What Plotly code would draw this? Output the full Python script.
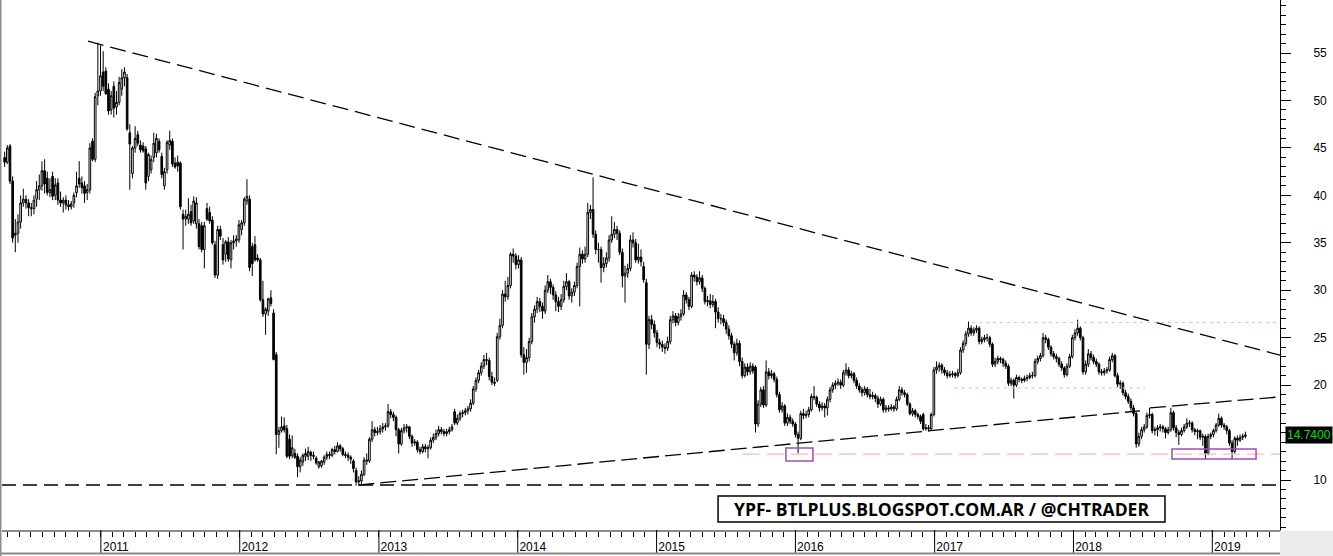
import pandas as pd
import plotly.graph_objects as go

# ---------------- weekly OHLC ----------------
start_date = "2010-04-23"

open_ = [
    44.0, 43.5, 45.2, 41.5, 35.8, 36.0, 37.2, 39.2, 39.6, 39.2,
    38.7, 38.6, 39.6, 40.6, 41.0, 42.6, 41.8, 40.3, 42.0, 40.0,
    41.3, 39.5, 39.2, 39.5, 39.0, 38.8, 39.2, 40.3, 41.8, 41.3,
    41.0, 40.3, 40.6, 45.7, 43.8, 50.5, 51.0, 53.0, 53.1, 51.2,
    49.0, 51.5, 49.3, 49.8, 51.2, 52.4, 52.4, 46.6, 42.3, 45.0,
    46.4, 45.3, 45.2, 44.9, 42.0, 42.7, 44.0, 44.5, 45.7, 44.1,
    41.0, 42.7, 45.3, 45.7, 43.4, 43.5, 43.4, 38.0, 37.5, 37.5,
    38.3, 37.3, 37.0, 37.0, 36.8, 34.3, 38.6, 38.2, 37.4, 34.8,
    31.6, 36.4, 34.8, 33.8, 35.1, 33.2, 35.0, 35.2, 35.3, 36.4,
    37.1, 39.4, 39.6, 34.6, 34.8, 33.4, 33.2, 29.0, 27.5, 27.8,
    29.2, 27.6, 23.2, 14.8, 15.2, 15.7, 15.4, 14.3, 12.6, 12.8,
    12.5, 11.4, 11.9, 12.5, 12.5, 12.9, 12.6, 12.3, 11.4, 11.5,
    11.9, 12.4,
    12.7, 12.6, 13.2, 13.0, 13.6, 13.3, 12.7, 12.6, 12.4, 12.0,
    11.0, 9.8, 9.9, 10.6, 12.1, 12.0, 14.3, 15.3, 15.0, 15.1,
    15.4, 15.6, 15.7, 17.2, 16.9, 16.6, 15.3, 13.8, 15.2, 15.5,
    15.6, 14.6, 13.9, 14.0, 13.2, 13.0, 13.5, 13.3, 13.4, 14.2,
    14.5, 14.9, 15.3, 15.1, 14.9, 15.1, 15.3, 17.2, 16.0, 16.5,
    17.0, 17.1, 17.3, 17.5, 18.1, 19.6, 20.5, 21.3, 22.0, 22.7,
    22.6, 20.9, 20.3, 20.5, 25.1, 26.3, 29.6, 29.3, 30.5, 33.8,
    33.6, 32.7, 33.2, 23.2, 22.4, 22.9, 24.6, 27.2, 28.0, 28.8,
    28.3, 27.8, 30.0, 30.9, 30.3, 29.5, 28.8, 28.3, 29.0, 30.4,
    30.9, 29.4, 29.8, 30.5, 32.5, 33.8, 33.3, 33.8, 38.2, 38.5,
    35.9, 34.3, 34.3, 32.4, 32.8, 33.4, 35.3, 35.9, 36.4, 36.0,
    34.0, 31.5, 31.8, 32.3, 35.3, 35.0, 33.2, 33.5, 32.5, 30.8,
    24.3, 26.9, 26.4, 25.5, 24.5, 24.3, 24.0, 23.9, 24.6, 26.9,
    27.3, 26.6, 27.2, 27.5, 29.5, 29.0, 28.3, 31.6, 31.4, 30.9,
    31.3, 30.2, 28.8, 28.9, 28.5, 28.8, 27.7, 27.0, 27.0, 26.6,
    25.9, 25.2, 24.3, 23.4, 24.4, 22.5, 21.0, 21.9, 21.4, 22.0,
    21.9, 15.9, 18.0, 19.5, 17.9, 21.4, 21.0, 21.2, 20.6, 19.0,
    17.4, 17.8, 16.0, 16.6, 16.2, 15.9, 14.8, 14.4, 17.0, 16.8,
    16.9, 17.4, 18.8, 18.7, 18.0, 17.6, 17.8, 17.6, 18.5, 19.5,
    20.0, 20.2, 20.3, 20.0, 21.3, 21.6, 21.0, 21.2, 20.5, 19.9,
    19.5, 19.2, 19.6, 19.0, 18.8, 18.9, 18.6, 18.0, 18.5, 17.4,
    17.6, 17.5, 17.7, 17.5, 18.5, 19.5, 19.2, 19.0, 18.0, 17.0,
    17.3, 16.9, 16.7, 16.9, 15.4, 15.5, 15.4, 16.9, 21.6, 21.9,
    22.1, 21.6, 21.3, 21.0, 21.1, 21.2, 21.0, 21.3, 23.7, 24.4,
    25.4, 26.0, 25.5, 25.8, 26.0, 24.6, 24.8, 25.0, 25.0, 24.3,
    22.2, 22.5, 22.8, 22.7, 22.3, 22.0, 20.2, 20.5, 20.0, 20.8,
    20.6, 20.5, 20.7, 20.8, 21.0, 21.0, 22.5, 22.8, 23.1, 25.0,
    24.8, 24.0, 23.3, 23.0, 22.8, 22.2, 21.8, 21.1, 22.0, 23.0,
    25.0, 25.5, 26.0, 25.0, 21.4, 22.2, 23.3, 22.9, 22.5, 22.2,
    21.4, 21.3, 21.5, 21.6, 22.7, 23.1, 21.0, 20.1, 20.2, 19.2,
    18.8, 18.3, 17.6, 17.0, 13.8, 14.6, 15.3, 15.6, 16.8, 16.9,
    15.2, 15.3, 15.5, 15.6, 15.4, 15.0, 15.3, 17.1, 15.5, 15.0,
    14.8, 15.2, 15.6, 16.0, 16.0, 15.3, 15.1, 15.2, 14.5, 14.6,
    12.8, 14.6, 14.8, 15.2, 15.8, 16.5, 15.8, 15.6, 15.2, 13.9,
    13.0, 14.4, 14.2, 14.5, 14.6,
]

high = [
    44.6, 45.3, 45.4, 42.0, 37.5, 38.0, 40.0, 40.7, 40.0, 39.6,
    39.2, 40.0, 41.5, 42.2, 43.6, 43.8, 42.5, 41.8, 42.5, 41.8,
    41.8, 40.4, 39.8, 40.0, 39.5, 39.4, 40.3, 42.5, 43.6, 42.0,
    41.5, 41.2, 45.5, 46.0, 50.8, 56.1, 55.8, 55.2, 53.5, 51.8,
    51.0, 52.0, 51.0, 52.5, 53.3, 53.5, 52.8, 47.5, 45.2, 47.3,
    46.8, 45.8, 45.6, 45.2, 44.5, 44.2, 46.6, 46.5, 46.0, 44.5,
    42.9, 45.8, 46.8, 46.0, 44.0, 44.2, 43.6, 38.5, 38.5, 39.7,
    39.0, 39.9, 39.8, 37.5, 37.2, 37.2, 39.2, 38.8, 37.8, 35.2,
    36.8, 36.8, 35.5, 35.3, 35.6, 35.3, 35.8, 35.8, 37.4, 37.4,
    39.8, 41.7, 40.0, 35.0, 35.7, 33.8, 33.4, 31.0, 28.2, 29.2,
    30.0, 28.0, 23.5, 15.6, 16.7, 16.6, 15.8, 14.8, 14.7, 13.3,
    12.8, 12.4, 12.8, 13.3, 13.5, 13.1, 13.0, 12.5, 12.0, 12.1,
    12.6, 13.0,
    13.0, 13.4, 13.6, 14.0, 13.8, 13.5, 13.0, 12.9, 12.6, 12.2,
    11.3, 10.4, 11.0, 12.4, 12.8, 14.5, 16.2, 15.6, 15.6, 15.8,
    16.0, 16.0, 18.0, 17.5, 17.2, 16.8, 15.5, 15.5, 15.9, 15.9,
    15.7, 14.8, 14.3, 14.2, 13.5, 13.8, 13.8, 13.7, 14.5, 14.9,
    15.3, 15.7, 15.6, 15.4, 15.4, 15.6, 15.9, 17.5, 16.9, 17.3,
    17.4, 17.6, 17.8, 18.5, 19.9, 20.8, 21.6, 22.4, 23.2, 23.4,
    22.9, 21.4, 20.8, 25.5, 27.0, 30.0, 31.0, 31.4, 34.0, 34.4,
    33.9, 33.7, 33.5, 24.0, 23.8, 25.0, 27.6, 28.4, 29.3, 29.2,
    28.7, 30.5, 31.6, 31.2, 30.6, 29.9, 29.3, 29.6, 31.0, 31.8,
    31.1, 30.2, 30.9, 32.9, 34.5, 34.2, 34.6, 39.2, 39.0, 41.9,
    36.3, 35.0, 34.6, 33.5, 34.0, 35.8, 37.8, 37.2, 36.8, 36.3,
    34.4, 32.6, 32.8, 35.8, 36.1, 35.4, 34.9, 34.3, 33.0, 31.2,
    27.3, 27.4, 26.8, 25.8, 24.9, 24.7, 24.4, 25.1, 27.3, 27.8,
    27.6, 27.6, 28.0, 30.0, 29.8, 29.3, 31.9, 32.0, 31.7, 32.0,
    31.6, 30.4, 29.4, 29.6, 29.5, 29.1, 28.2, 27.5, 27.4, 26.9,
    26.3, 25.5, 24.6, 24.9, 24.7, 22.9, 22.3, 22.3, 22.4, 22.3,
    22.1, 18.4, 19.8, 19.9, 22.6, 21.8, 21.6, 21.4, 20.9, 19.3,
    18.2, 18.0, 17.0, 16.9, 16.5, 16.1, 15.1, 17.3, 17.5, 17.3,
    17.7, 19.1, 19.9, 18.9, 18.3, 18.2, 18.1, 18.8, 19.8, 20.3,
    20.5, 20.7, 20.6, 21.6, 22.3, 21.9, 21.5, 21.4, 20.8, 20.2,
    19.8, 19.9, 19.8, 19.6, 19.3, 19.1, 18.9, 18.8, 18.7, 17.9,
    17.9, 18.0, 17.9, 18.8, 19.9, 19.8, 19.5, 19.2, 18.2, 17.6,
    17.5, 17.1, 16.9, 17.1, 15.9, 15.8, 17.1, 21.9, 22.5, 22.4,
    22.3, 21.9, 21.6, 21.5, 21.5, 21.4, 21.7, 24.0, 24.7, 25.7,
    26.7, 26.3, 26.1, 26.3, 26.2, 25.1, 25.3, 25.4, 25.2, 24.5,
    22.9, 23.1, 23.0, 22.9, 22.6, 22.2, 20.8, 20.7, 21.1, 21.0,
    20.8, 21.0, 21.1, 21.3, 21.4, 22.8, 23.1, 23.4, 25.5, 25.3,
    25.0, 24.2, 23.6, 23.3, 23.0, 22.5, 22.0, 22.3, 23.3, 25.3,
    25.9, 26.9, 26.2, 25.2, 22.6, 23.8, 23.6, 23.2, 22.8, 22.4,
    21.7, 21.8, 21.9, 23.0, 23.4, 23.3, 21.3, 20.5, 20.4, 19.5,
    19.1, 18.6, 17.9, 17.2, 15.0, 15.6, 15.9, 17.1, 17.6, 17.1,
    15.6, 15.8, 15.9, 15.8, 15.6, 15.6, 17.6, 17.3, 15.8, 15.3,
    15.5, 15.9, 16.5, 16.3, 16.2, 15.5, 15.4, 15.3, 14.9, 14.8,
    14.9, 15.0, 15.4, 16.0, 17.0, 16.7, 16.0, 15.8, 15.4, 14.2,
    14.6, 14.7, 14.8, 14.9, 15.1,
]

low = [
    43.0, 43.3, 41.2, 35.0, 34.0, 35.0, 36.5, 38.8, 38.6, 37.8,
    37.8, 38.0, 38.8, 39.5, 40.5, 40.2, 40.0, 39.8, 39.5, 39.5,
    39.0, 38.8, 38.2, 38.5, 38.4, 38.5, 38.7, 39.8, 40.8, 40.2,
    39.2, 39.5, 40.2, 43.6, 43.5, 49.5, 50.5, 51.0, 50.6, 48.5,
    48.5, 48.2, 48.5, 49.5, 50.5, 51.5, 46.8, 40.6, 41.8, 44.5,
    45.2, 44.5, 44.5, 40.6, 41.5, 42.3, 43.5, 44.0, 44.5, 41.8,
    40.6, 42.3, 44.8, 43.0, 42.8, 42.5, 38.5, 34.3, 36.8, 37.0,
    36.8, 37.0, 36.5, 34.3, 34.0, 32.3, 37.3, 37.0, 34.8, 31.3,
    31.2, 35.3, 32.7, 33.0, 33.0, 32.3, 34.3, 34.6, 35.0, 35.8,
    36.8, 39.0, 32.0, 31.5, 33.0, 33.0, 28.8, 27.2, 25.3, 27.3,
    28.3, 22.6, 12.7, 13.4, 15.0, 15.0, 12.3, 12.2, 12.3, 12.2,
    10.3, 10.8, 11.5, 12.0, 12.1, 12.0, 12.2, 11.6, 11.2, 11.3,
    11.6, 12.1,
    12.2, 12.4, 12.7, 12.9, 13.0, 12.5, 12.3, 12.0, 11.7, 10.8,
    9.4, 9.4, 9.6, 10.4, 11.6, 11.8, 14.0, 14.6, 14.7, 14.8,
    15.0, 15.2, 15.5, 16.5, 16.2, 14.6, 12.8, 13.6, 14.9, 15.0,
    14.3, 13.5, 13.6, 12.9, 12.7, 12.8, 12.9, 12.3, 13.2, 13.9,
    14.2, 14.6, 14.8, 14.6, 14.6, 14.8, 15.1, 15.8, 15.8, 16.2,
    16.6, 16.8, 16.9, 17.2, 17.9, 19.3, 20.2, 21.0, 21.7, 22.1,
    20.5, 20.0, 19.9, 20.3, 24.8, 26.0, 28.8, 29.0, 30.2, 32.9,
    32.2, 32.3, 22.9, 21.1, 21.3, 22.5, 24.3, 26.6, 27.6, 27.7,
    27.0, 27.5, 29.7, 29.6, 29.0, 27.8, 27.7, 27.9, 28.7, 30.0,
    29.0, 28.7, 29.4, 30.2, 28.3, 32.8, 32.9, 33.5, 37.5, 35.5,
    33.8, 32.9, 30.8, 31.9, 32.4, 33.0, 35.0, 35.5, 35.3, 33.7,
    30.3, 28.7, 31.3, 32.0, 34.5, 32.9, 32.8, 32.5, 30.8, 21.1,
    23.8, 25.9, 25.0, 24.0, 23.8, 23.5, 23.3, 23.6, 24.3, 26.5,
    26.2, 26.3, 26.8, 27.3, 28.6, 27.9, 28.1, 30.9, 30.5, 30.6,
    29.8, 28.5, 28.3, 28.1, 28.2, 26.0, 26.6, 26.4, 26.2, 25.4,
    24.8, 23.9, 22.6, 23.1, 22.0, 20.7, 20.8, 21.0, 21.1, 21.2,
    15.0, 15.6, 17.7, 17.6, 17.7, 20.6, 20.7, 20.3, 18.7, 17.1,
    17.1, 15.7, 15.7, 15.9, 15.6, 14.5, 12.8, 14.2, 16.4, 16.5,
    16.6, 17.2, 18.4, 17.7, 17.2, 17.3, 16.6, 16.8, 18.2, 19.2,
    19.6, 19.9, 19.6, 19.8, 21.0, 20.7, 20.7, 20.2, 19.6, 19.2,
    18.8, 18.9, 18.7, 18.5, 18.5, 18.2, 17.6, 17.8, 17.1, 17.1,
    17.2, 17.3, 17.2, 17.3, 18.3, 18.9, 18.7, 17.8, 16.8, 16.7,
    16.6, 16.4, 15.9, 15.2, 15.2, 15.1, 15.2, 16.7, 21.2, 21.4,
    21.2, 21.0, 20.7, 20.8, 20.8, 20.7, 20.8, 21.1, 23.4, 24.1,
    25.1, 25.2, 25.2, 25.5, 24.3, 24.3, 24.5, 24.6, 24.0, 21.9,
    21.9, 22.2, 22.3, 21.9, 21.7, 19.9, 19.9, 18.6, 19.8, 20.3,
    20.2, 20.3, 20.4, 20.6, 20.7, 20.8, 22.2, 22.5, 22.9, 24.4,
    23.7, 23.0, 22.7, 22.4, 21.9, 21.5, 20.8, 20.9, 21.8, 22.8,
    24.7, 25.2, 24.7, 21.1, 21.1, 21.9, 22.6, 22.2, 21.9, 21.1,
    21.0, 21.0, 21.2, 21.4, 22.4, 20.8, 19.8, 19.6, 18.9, 18.5,
    18.0, 17.3, 16.7, 13.4, 13.5, 14.3, 15.0, 15.4, 16.5, 14.9,
    14.7, 14.6, 15.1, 15.0, 14.4, 14.8, 15.1, 15.2, 14.5, 13.7,
    14.6, 15.0, 15.4, 15.6, 15.0, 14.7, 14.3, 14.2, 13.6, 12.2,
    12.6, 14.3, 14.5, 15.0, 15.6, 15.5, 15.3, 14.8, 13.6, 12.2,
    12.8, 13.6, 14.0, 14.2, 14.4,
]

close = [
    43.5, 45.0, 41.5, 35.5, 36.0, 37.2, 39.2, 39.6, 39.2, 38.7,
    38.6, 39.5, 40.6, 41.0, 42.6, 41.2, 40.3, 40.6, 39.9, 41.1,
    39.5, 39.2, 39.5, 39.0, 38.8, 39.1, 40.0, 41.0, 41.2, 40.8,
    40.2, 40.6, 45.0, 43.8, 50.4, 51.0, 52.6, 51.5, 50.7, 48.9,
    50.5, 49.2, 49.8, 51.9, 52.4, 53.0, 47.0, 45.4, 45.0, 46.0,
    45.5, 44.8, 44.7, 41.3, 44.3, 43.8, 45.5, 46.0, 44.8, 42.2,
    42.5, 45.6, 45.8, 43.3, 43.0, 43.1, 38.8, 37.5, 37.8, 38.0,
    37.1, 39.4, 39.2, 34.6, 34.3, 36.8, 37.5, 37.3, 35.0, 31.6,
    36.4, 35.7, 33.2, 35.1, 33.3, 35.0, 35.2, 35.4, 36.9, 37.1,
    39.6, 39.9, 32.4, 32.8, 33.2, 33.2, 29.0, 27.5, 28.0, 29.1,
    28.6, 22.7, 14.8, 15.2, 15.6, 15.3, 12.5, 12.5, 13.4, 12.4,
    11.4, 12.1, 12.6, 12.8, 13.0, 12.6, 12.5, 11.8, 11.9, 12.0,
    12.4, 12.7,
    12.6, 13.2, 13.0, 13.6, 13.3, 12.7, 12.6, 12.4, 12.2, 11.2,
    9.8, 9.9, 10.6, 12.1, 12.0, 14.3, 15.3, 15.0, 15.1, 15.4,
    15.6, 15.7, 17.2, 16.9, 16.6, 15.3, 13.8, 15.2, 15.5, 15.6,
    14.6, 13.9, 14.0, 13.2, 13.0, 13.5, 13.3, 13.4, 14.2, 14.5,
    14.9, 15.3, 15.1, 14.9, 15.1, 15.3, 15.6, 16.0, 16.5, 17.0,
    17.1, 17.3, 17.5, 18.1, 19.6, 20.5, 21.3, 22.0, 22.7, 22.6,
    20.9, 20.3, 20.2, 25.1, 26.3, 29.6, 29.3, 30.5, 33.8, 33.6,
    32.7, 33.2, 23.2, 22.4, 22.9, 24.6, 27.2, 28.0, 28.8, 28.3,
    27.8, 30.0, 30.9, 30.3, 29.5, 28.8, 28.3, 29.0, 30.4, 30.9,
    29.4, 29.8, 30.5, 32.5, 33.8, 33.3, 33.8, 38.2, 38.5, 35.9,
    34.3, 34.3, 32.4, 32.8, 33.4, 35.3, 35.9, 36.4, 36.0, 34.0,
    31.5, 31.8, 32.3, 35.3, 35.0, 33.2, 33.5, 33.0, 31.1, 24.3,
    26.9, 26.4, 25.5, 24.5, 24.3, 24.0, 23.9, 24.6, 26.9, 27.3,
    26.6, 27.2, 27.5, 29.5, 29.0, 28.3, 31.6, 31.4, 30.9, 31.3,
    30.2, 28.8, 28.9, 28.5, 28.8, 27.7, 27.0, 27.0, 26.6, 25.9,
    25.2, 24.3, 23.4, 24.4, 22.5, 21.0, 21.9, 21.4, 22.0, 21.5,
    15.9, 18.0, 19.5, 17.9, 21.4, 21.0, 21.2, 20.6, 19.0, 17.4,
    17.8, 16.0, 16.6, 16.2, 15.9, 14.8, 14.4, 17.0, 16.8, 16.9,
    17.4, 18.8, 18.7, 18.0, 17.6, 17.8, 17.6, 18.5, 19.5, 20.0,
    20.2, 20.3, 20.0, 21.3, 21.6, 21.0, 21.2, 20.5, 19.9, 19.5,
    19.2, 19.6, 19.0, 18.8, 18.9, 18.6, 18.0, 18.5, 17.4, 17.6,
    17.5, 17.7, 17.5, 18.5, 19.5, 19.2, 19.0, 18.0, 17.0, 17.3,
    16.9, 16.7, 16.2, 15.4, 15.5, 15.4, 16.9, 21.6, 21.9, 22.1,
    21.6, 21.3, 21.0, 21.1, 21.2, 21.0, 21.3, 23.7, 24.4, 25.4,
    26.0, 25.5, 25.8, 26.0, 24.6, 24.8, 25.0, 25.0, 24.3, 22.2,
    22.5, 22.8, 22.7, 22.3, 22.0, 20.2, 20.5, 20.0, 20.8, 20.6,
    20.5, 20.7, 20.8, 21.0, 21.0, 22.5, 22.8, 23.1, 25.0, 24.8,
    24.0, 23.3, 23.0, 22.8, 22.2, 21.8, 21.1, 22.0, 23.0, 25.0,
    25.5, 26.0, 25.0, 21.4, 22.2, 23.3, 22.9, 22.5, 22.2, 21.4,
    21.3, 21.5, 21.6, 22.7, 23.1, 21.0, 20.1, 20.2, 19.2, 18.8,
    18.3, 17.6, 17.0, 13.8, 14.6, 15.3, 15.6, 16.8, 16.9, 15.2,
    15.3, 15.5, 15.6, 15.4, 15.0, 15.3, 17.1, 15.5, 15.0, 14.8,
    15.2, 15.6, 16.0, 16.0, 15.3, 15.1, 15.2, 14.5, 14.6, 12.8,
    14.6, 14.8, 15.2, 15.8, 16.5, 15.8, 15.6, 15.2, 13.9, 13.0,
    14.4, 14.2, 14.5, 14.6, 14.74,
]

# ---------------- drawn studies (dates, prices) ----------------
upper_trend = [("2010-11-28", 56.25), ("2019-06-28", 23.15)]
lower_trend_a = [("2012-11-08", 9.47), ("2018-06-25", 17.29)]
lower_trend_b = [("2018-07-21", 17.60), ("2019-06-28", 18.76)]
base_level = 9.47
pink_dotted = [("2017-04-09", "2019-06-28", 26.6), ("2017-02-23", "2018-07-08", 19.7)]
pink_dashed = [("2015-08-16", "2019-06-28", 12.72)]
boxes = [("2015-12-07", "2016-02-16", 12.0, 13.38), ("2018-09-17", "2019-04-26", 12.22, 13.27)]
year_ticks = ["2011", "2012", "2013", "2014", "2015", "2016", "2017", "2018", "2019"]
price_ticks = [10, 15, 20, 25, 30, 35, 40, 45, 50, 55]
price_tick_text = ["10", "", "20", "25", "30", "35", "40", "45", "50", "55"]  # 15 hidden under price tag
last_price = "14.7400"
title_text = "YPF- BTLPLUS.BLOGSPOT.COM.AR / @CHTRADER"

n = min(len(open_), len(high), len(low), len(close))
if not (len(open_) == len(high) == len(low) == len(close)):
    print("LENGTHS", len(open_), len(high), len(low), len(close))
dates = pd.date_range(start_date, periods=n, freq="7D")

fig = go.Figure()
fig.add_trace(go.Candlestick(
    x=dates, open=open_[:n], high=high[:n], low=low[:n], close=close[:n],
    increasing=dict(line=dict(color="black", width=1), fillcolor="white"),
    decreasing=dict(line=dict(color="black", width=1), fillcolor="black"),
    whiskerwidth=0, showlegend=False, hoverinfo="skip",
))

shapes = []
for seg, dash in [(upper_trend, "16px,7px"), (lower_trend_a, "16px,6px"), (lower_trend_b, "16px,6px")]:
    (x0, y0), (x1, y1) = seg
    shapes.append(dict(type="line", xref="x", yref="y", x0=x0, y0=y0, x1=x1, y1=y1,
                       line=dict(color="black", width=1.3, dash=dash)))
shapes.append(dict(type="line", xref="paper", yref="y", x0=0, x1=1, y0=base_level, y1=base_level,
                   line=dict(color="black", width=1.5, dash="14px,7px")))
for x0, x1, yv in pink_dotted:
    shapes.append(dict(type="line", xref="x", yref="y", x0=x0, x1=x1, y0=yv, y1=yv,
                       line=dict(color="#ffb3c8", width=1.2, dash="3px,4px")))
for x0, x1, yv in pink_dashed:
    shapes.append(dict(type="line", xref="x", yref="y", x0=x0, x1=x1, y0=yv, y1=yv,
                       line=dict(color="#ffb3c8", width=1.3, dash="17px,7px")))
for x0, x1, y0, y1 in boxes:
    shapes.append(dict(type="rect", xref="x", yref="y", x0=x0, x1=x1, y0=y0, y1=y1,
                       line=dict(color="#9c4fb5", width=1.5), fillcolor="rgba(0,0,0,0)"))
# year separators in the date bar
for yr in year_ticks:
    shapes.append(dict(type="line", xref="x", yref="paper", x0=yr + "-01-01", x1=yr + "-01-01",
                       y0=0, y1=-0.044, line=dict(color="black", width=1)))
# bottom bar frame and grey corner
shapes.append(dict(type="line", xref="paper", yref="paper", x0=-0.002, x1=1.0, y0=-0.0445, y1=-0.0445,
                   line=dict(color="#8a8a8a", width=2)))
shapes.append(dict(type="rect", xref="paper", yref="paper", x0=1.0, x1=1.045, y0=-0.002, y1=-0.06,
                   line=dict(width=0), fillcolor="#ebebeb"))
shapes.append(dict(type="line", xref="paper", yref="paper", x0=-0.0012, x1=-0.0012, y0=-0.06, y1=1.0,
                   line=dict(color="#8a8a8a", width=2)))
# title box
shapes.append(dict(type="rect", xref="paper", yref="paper", x0=0.5603, x1=0.9100, y0=0.0151, y1=0.0642,
                   line=dict(color="black", width=1.5), fillcolor="white"))

annotations = [
    dict(xref="paper", yref="paper", x=0.7351, y=0.0396, text="<b>" + title_text + "</b>",
         showarrow=False, xanchor="center", yanchor="middle",
         font=dict(family="Open Sans, sans-serif", size=17.5, color="black")),
    dict(xref="paper", yref="y", x=1.0, y=float(last_price), xanchor="left", yanchor="middle",
         xshift=5, text=last_price, showarrow=False, bgcolor="black", borderpad=1,
         font=dict(family="Liberation Sans, Arial", size=12, color="#00e000")),
]

fig.update_layout(
    width=1333, height=556,
    margin=dict(l=2, r=53, t=0, b=26, pad=0),
    paper_bgcolor="white", plot_bgcolor="white",
    showlegend=False, boxgap=0.12,
    shapes=shapes, annotations=annotations,
    font=dict(family="Liberation Sans, Arial", size=12, color="black"),
    xaxis=dict(
        type="date", range=["2010-04-16", "2019-06-28"],
        rangeslider=dict(visible=False),
        tick0="2011-01-01", dtick="M12", tickformat="%Y",
        ticks="outside", ticklen=5, tickcolor="black", tickwidth=1,
        ticklabelshift=15, ticklabelstandoff=0,
        showline=True, linecolor="#8a8a8a", linewidth=2,
        showgrid=False, zeroline=False,
        minor=dict(dtick="M1", ticks="outside", ticklen=5, tickcolor="black", showgrid=False),
        tickfont=dict(size=12),
    ),
    yaxis=dict(
        side="right", range=[4.73, 60.59],
        ticks="outside", ticklen=10, tickcolor="black",
        tickvals=price_ticks, ticktext=price_tick_text,
        ticklabelstandoff=20,
        showline=True, linecolor="black", linewidth=1,
        showgrid=False, zeroline=False,
        minor=dict(dtick=1, ticks="outside", ticklen=5, tickcolor="black", showgrid=False),
        tickfont=dict(size=12),
    ),
)

fig.write_html(
    "out.html",
    config={"displayModeBar": False},
    post_script="document.body.style.margin='0px';document.body.style.overflow='hidden';",
)
